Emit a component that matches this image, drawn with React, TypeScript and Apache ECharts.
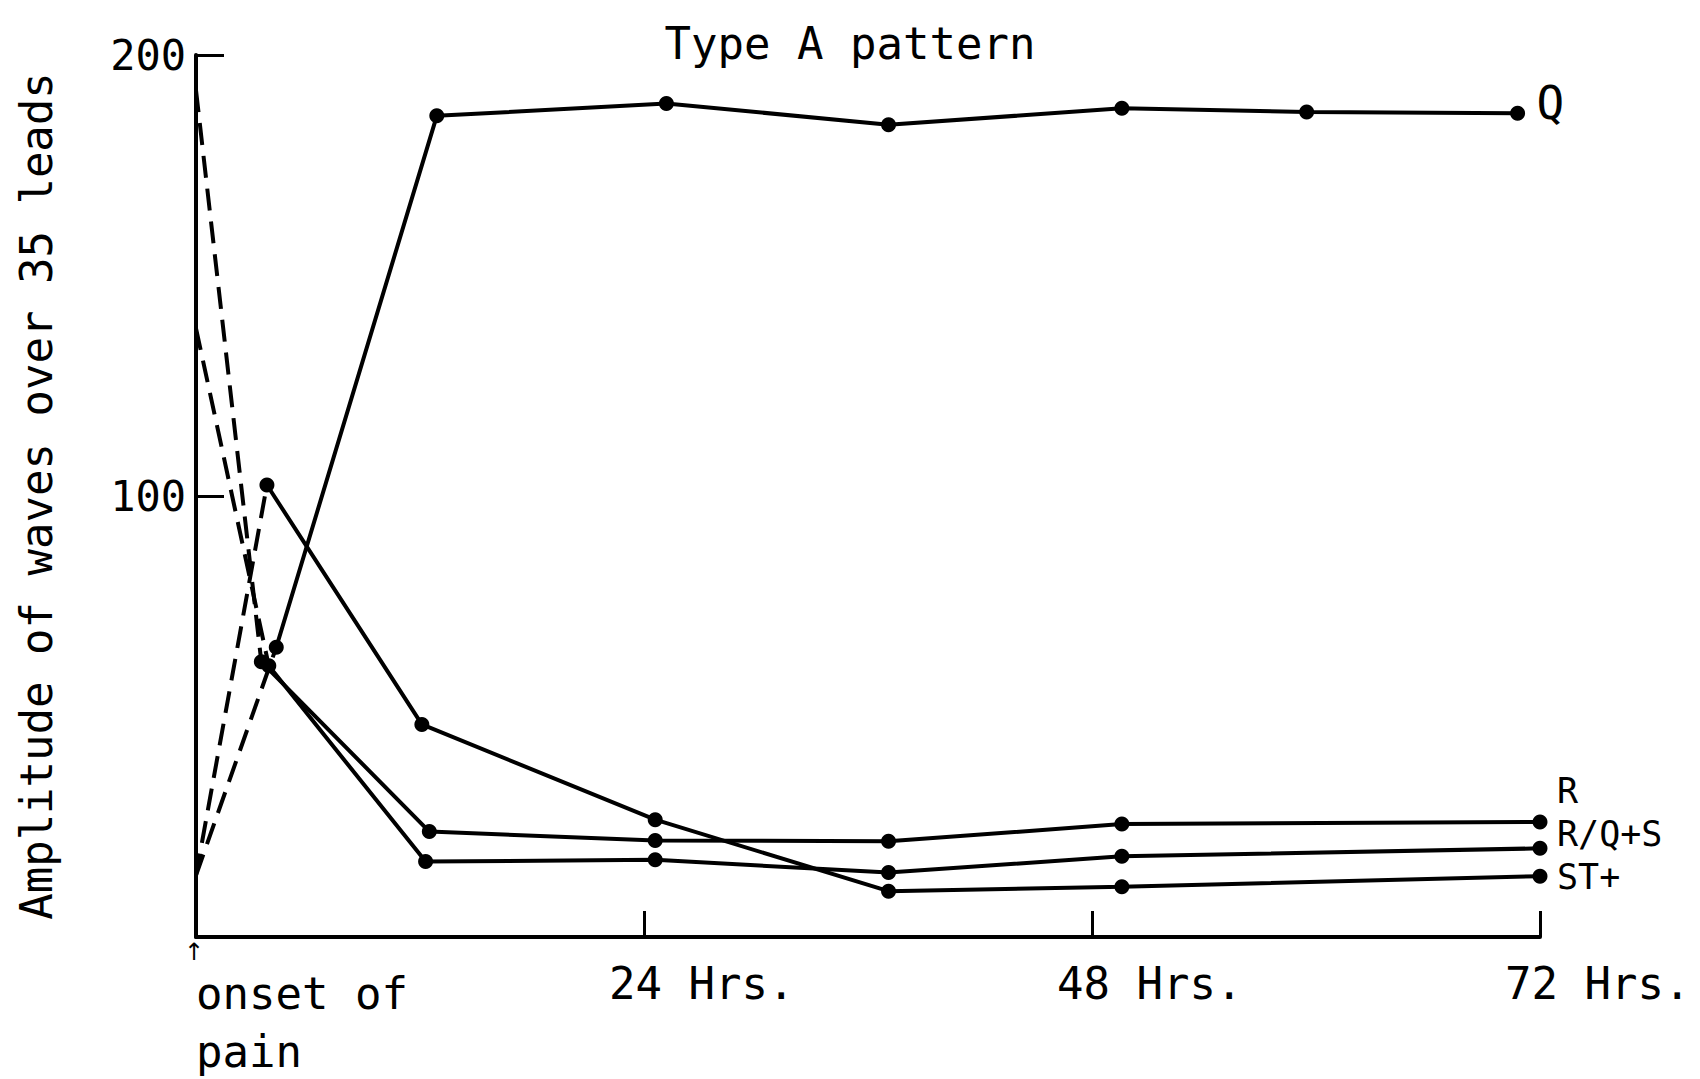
import React, { useEffect, useRef } from "react";
import * as echarts from "echarts";

// ---------- data ----------
const TITLE = "Type A pattern";
const Y_AXIS_NAME = "Amplitude of waves over 35 leads";
const X_TICK_HOURS = [0, 24, 48, 72];
const X_TICK_LABELS = ["onset of\npain", "24 Hrs.", "48 Hrs.", "72 Hrs."];
const Y_MIN = 0;
const Y_MAX = 200;
const Y_STEP = 100;

// value at onset of pain (hour 0), joined by a dashed line to the first dot
const Q_ONSET = 14;
const Q_HOURS = [4.3, 12.9, 25.2, 37.1, 49.6, 59.5, 70.8];
const Q_VALUES = [65.7, 186.2, 189.0, 184.2, 187.9, 187.1, 186.8];

const R_ONSET = 192;
const R_HOURS = [3.5, 12.5, 24.6, 37.1, 49.6, 72];
const R_VALUES = [62.4, 23.9, 21.9, 21.7, 25.6, 26.1];

const RQS_ONSET = 138;
const RQS_HOURS = [3.9, 12.3, 24.6, 37.1, 49.6, 72];
const RQS_VALUES = [61.5, 17.1, 17.5, 14.6, 18.3, 20.1];

const ST_ONSET = 14;
const ST_HOURS = [3.8, 12.1, 24.6, 37.1, 49.6, 72];
const ST_VALUES = [102.5, 48.2, 26.6, 10.4, 11.4, 13.8];

const SERIES_NAMES = ["Q", "R", "R/Q+S", "ST+"];

// ---------- styles ----------
const FONT = "DejaVu Sans Mono";
const INK = "#000";

function makeSeries(
  name: string,
  onset: number,
  hours: number[],
  values: number[],
  labelOffset: number[],
  labelSize: number
) {
  const solid = hours.map((h, i) => [h, values[i]]);
  return [
    {
      name: name + " (onset)",
      type: "line",
      data: [[0, onset], solid[0]],
      showSymbol: false,
      symbol: "none",
      clip: false,
      lineStyle: { color: INK, width: 4, type: [22, 11] },
      silent: true,
    },
    {
      name,
      type: "line",
      data: solid,
      symbol: "circle",
      symbolSize: 15,
      clip: false,
      itemStyle: { color: INK },
      lineStyle: { color: INK, width: 4 },
      endLabel: {
        show: true,
        formatter: name,
        distance: 0,
        offset: labelOffset,
        fontFamily: FONT,
        fontSize: labelSize,
        color: INK,
      },
      silent: true,
    },
  ];
}

export default function App() {
  const ref = useRef<HTMLDivElement>(null);

  useEffect(() => {
    if (!ref.current) return;
    const chart = echarts.init(ref.current, null, { renderer: "svg" });

    const series = [
      ...makeSeries(SERIES_NAMES[0], Q_ONSET, Q_HOURS, Q_VALUES, [19, -10], 46),
      ...makeSeries(SERIES_NAMES[1], R_ONSET, R_HOURS, R_VALUES, [17, -31], 35),
      ...makeSeries(SERIES_NAMES[2], RQS_ONSET, RQS_HOURS, RQS_VALUES, [17, -14], 35),
      ...makeSeries(SERIES_NAMES[3], ST_ONSET, ST_HOURS, ST_VALUES, [17, 1], 35),
    ];

    chart.setOption({
      animation: false,
      backgroundColor: "#fff",
      title: {
        text: TITLE,
        left: "center",
        top: 16,
        textStyle: { fontFamily: FONT, fontSize: 44, fontWeight: "normal", color: INK },
      },
      grid: { left: 196, right: 160, top: 55, bottom: 142 },
      xAxis: {
        type: "value",
        min: X_TICK_HOURS[0],
        max: X_TICK_HOURS[X_TICK_HOURS.length - 1],
        interval: X_TICK_HOURS[1] - X_TICK_HOURS[0],
        axisLine: { show: true, lineStyle: { color: INK, width: 4 } },
        axisTick: { show: true, inside: true, length: 26, lineStyle: { color: INK, width: 3 } },
        splitLine: { show: false },
        axisLabel: {
          fontFamily: FONT,
          fontSize: 44,
          color: INK,
          align: "left",
          padding: [0, 0, 0, -35],
          margin: 24,
          formatter: (v: number) => {
            const i = X_TICK_HOURS.indexOf(v);
            return i <= 0 ? "" : X_TICK_LABELS[i];
          },
        },
      },
      yAxis: {
        type: "value",
        min: Y_MIN,
        max: Y_MAX,
        interval: Y_STEP,
        name: Y_AXIS_NAME,
        nameLocation: "middle",
        nameRotate: 90,
        nameGap: 138,
        nameTextStyle: { fontFamily: FONT, fontSize: 44, color: INK },
        axisLine: { show: true, lineStyle: { color: INK, width: 4 } },
        axisTick: { show: true, inside: true, length: 28, lineStyle: { color: INK, width: 3 } },
        splitLine: { show: false },
        axisLabel: {
          fontFamily: FONT,
          fontSize: 42,
          color: INK,
          margin: 10,
          formatter: (v: number) => (v === 0 ? "" : String(v)),
        },
      },
      series,
    });

    const origin = chart.convertToPixel({ gridIndex: 0 }, [X_TICK_HOURS[0], Y_MIN]) as number[];
    chart.setOption({
      graphic: [
        {
          type: "text",
          x: origin[0],
          y: origin[1] + 27,
          style: {
            text: X_TICK_LABELS[0],
            fontFamily: FONT,
            fontSize: 44,
            lineHeight: 58,
            fill: INK,
            align: "left",
            verticalAlign: "top",
          },
        },
        {
          type: "text",
          x: origin[0] - 2,
          y: origin[1] + 5,
          style: {
            text: "↑",
            fontFamily: "DejaVu Sans",
            fontSize: 24,
            lineHeight: 20,
            fill: INK,
            align: "center",
            verticalAlign: "top",
          },
        },
      ],
    });

    return () => chart.dispose();
  }, []);

  return (
    <div
      ref={ref}
      style={{ position: "absolute", left: 0, top: 0, width: 1700, height: 1079, background: "#fff" }}
    />
  );
}
